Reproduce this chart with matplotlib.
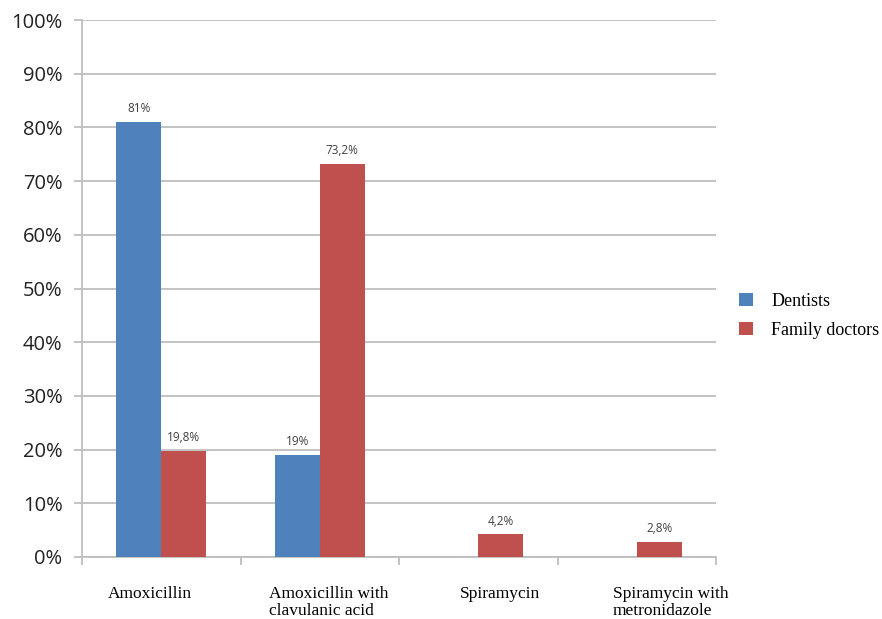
import matplotlib
matplotlib.use("Agg")
import matplotlib.pyplot as plt
import numpy as np
from matplotlib.ticker import MultipleLocator, FuncFormatter, FixedLocator, NullFormatter

categories = ["Amoxicillin", "Amoxicillin with\nclavulanic acid", "Spiramycin", "Spiramycin with\nmetronidazole"]
dentists = [81, 19, None, None]
family_doctors = [19.8, 73.2, 4.2, 2.8]
dentist_labels = ["81%", "19%", None, None]
family_labels = ["19,8%", "73,2%", "4,2%", "2,8%"]
series_names = ["Dentists", "Family doctors"]

blue = "#4F81BD"
red = "#C0504D"
grid_c = "#BEBEBE"

fig = plt.figure(figsize=(8.82, 6.19), dpi=100)
ax = fig.add_axes([82/882, 1-557/619, (716-82)/882, (557-20)/619])

x = np.arange(len(categories))
w = 0.285
d_vals = [v if v is not None else 0 for v in dentists]
b1 = ax.bar(x - w/2, d_vals, w, color=blue, label=series_names[0], zorder=3)
b2 = ax.bar(x + w/2, family_doctors, w, color=red, label=series_names[1], zorder=3)
for i, v in enumerate(dentists):
    if v is None:
        b1[i].set_visible(False)

for rect, lab in zip(b1, dentist_labels):
    if lab:
        ax.annotate(lab, (rect.get_x()+rect.get_width()/2, rect.get_height()),
                    xytext=(0, 5), textcoords="offset points", ha="center", va="bottom",
                    fontsize=8.5, color="#404040", family="Open Sans")
for rect, lab in zip(b2, family_labels):
    ax.annotate(lab, (rect.get_x()+rect.get_width()/2, rect.get_height()),
                xytext=(0, 5), textcoords="offset points", ha="center", va="bottom",
                fontsize=8.5, color="#404040", family="Open Sans")

ax.set_xlim(-0.5, len(categories)-0.5)
ax.set_ylim(0, 100)
ax.yaxis.set_major_locator(MultipleLocator(10))
ax.yaxis.set_major_formatter(FuncFormatter(lambda v, p: f"{int(v)}%"))
ax.grid(axis="y", color=grid_c, linewidth=1.3, zorder=0)

ax.xaxis.set_major_locator(FixedLocator(x))
ax.xaxis.set_major_formatter(NullFormatter())
ax.tick_params(axis="x", which="major", length=0)
ax.xaxis.set_minor_locator(FixedLocator(np.arange(len(categories)+1) - 0.5))
ax.xaxis.set_minor_formatter(NullFormatter())
ax.tick_params(axis="x", which="minor", length=6, color=grid_c, width=1.3)
ax.tick_params(axis="y", length=6, color=grid_c, width=1.3, pad=8)
for lab in ax.get_yticklabels():
    lab.set_family("Open Sans")
    lab.set_fontsize(14.5)
    lab.set_color("#222222")

# category labels (slight horizontal offsets as in the original layout)
label_shift_pt = [-8, 6.5, 16, 24.5]
for xi, cat, dx in zip(x, categories, label_shift_pt):
    ax.annotate(cat, (xi, 0), xycoords=("data", "axes fraction"),
                xytext=(dx, -21), textcoords="offset points",
                ha="center", va="top", multialignment="left",
                family="Liberation Serif", fontsize=12.5, linespacing=1.05,
                annotation_clip=False)

for s in ["top", "right"]:
    ax.spines[s].set_visible(False)
for s in ["left", "bottom"]:
    ax.spines[s].set_color(grid_c)
    ax.spines[s].set_linewidth(1.3)

leg = fig.legend(handles=[b1, b2], labels=series_names, loc="center left",
                 bbox_to_anchor=(0.82, 0.49), frameon=False,
                 prop={"family": "Liberation Serif", "size": 13},
                 handlelength=0.75, handleheight=0.75, handletextpad=1.0, labelspacing=0.65)

fig.savefig("out.png", dpi=100)
